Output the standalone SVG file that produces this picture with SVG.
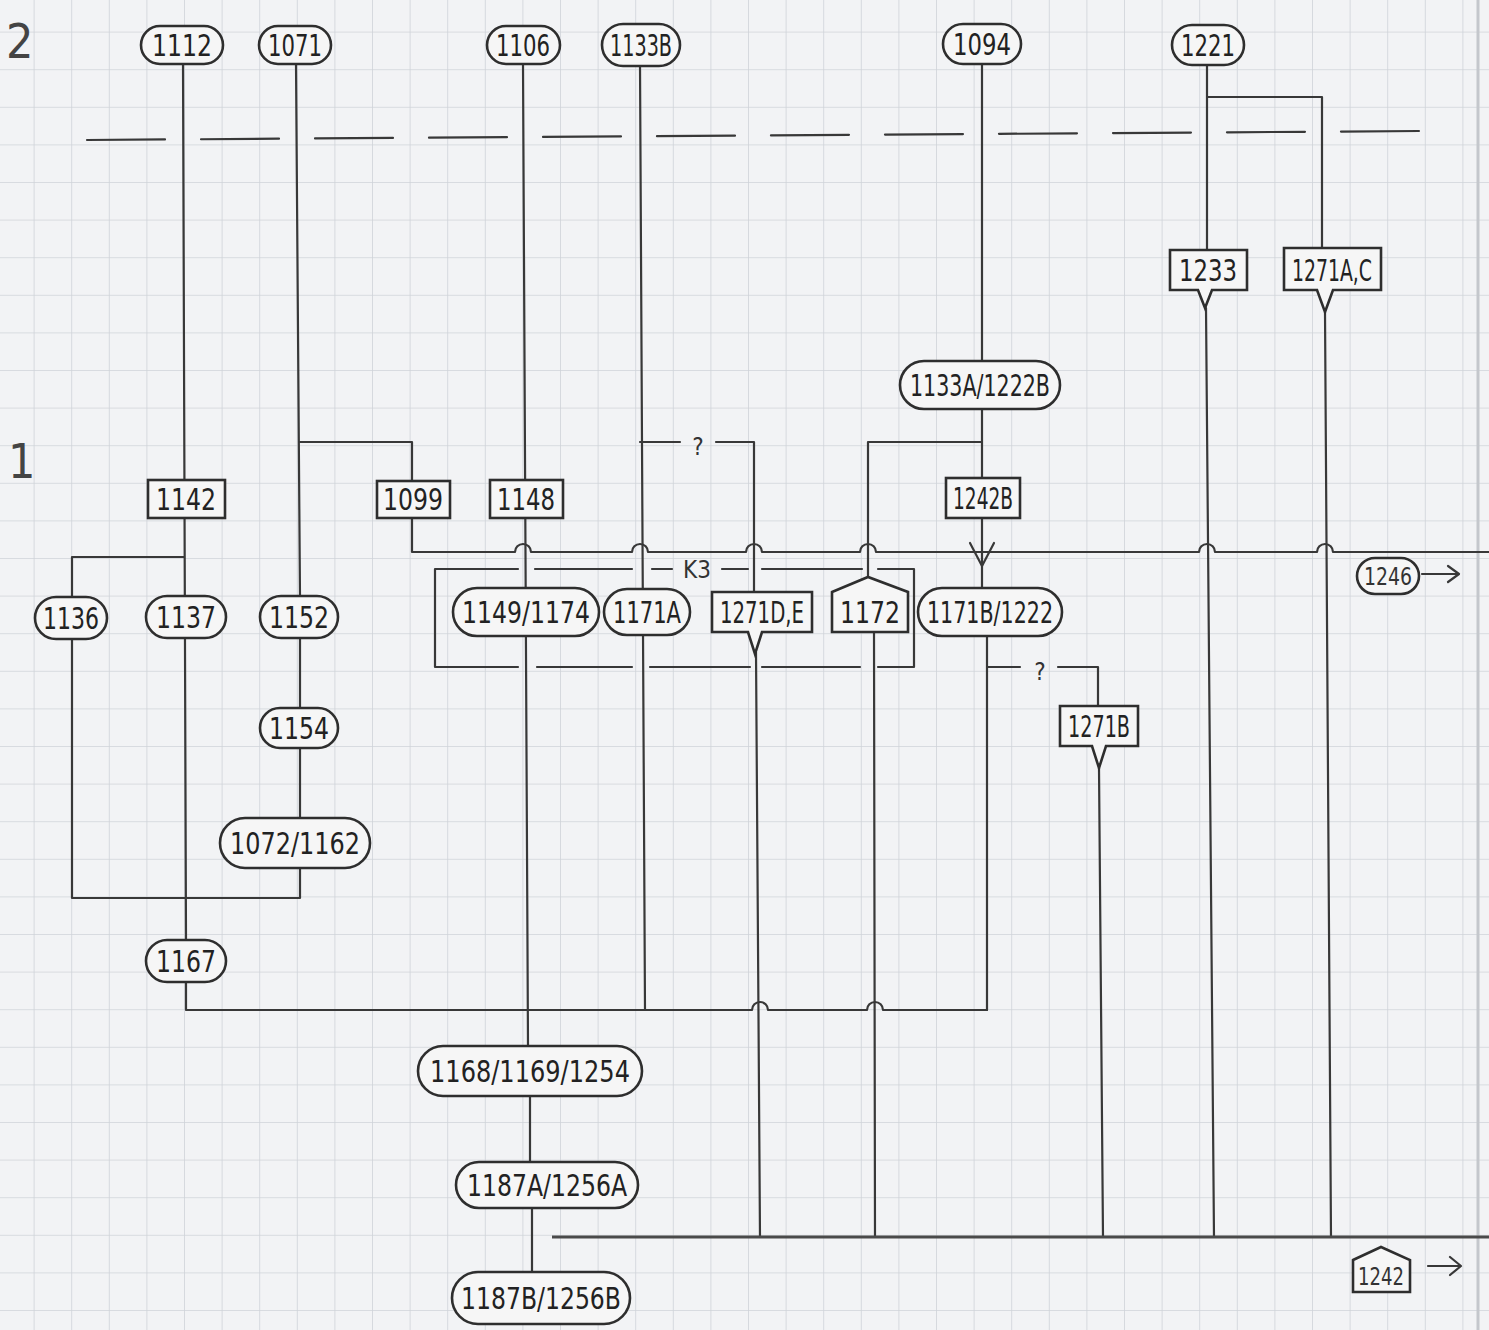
<svg xmlns="http://www.w3.org/2000/svg" width="1489" height="1330" viewBox="0 0 1489 1330">
<style>
.ln{fill:none;stroke:#383838;stroke-width:2.2;stroke-linecap:round;stroke-linejoin:round}
.thick{fill:none;stroke:#4a4a4a;stroke-width:3.2}
.nd{fill:#f6f6f6;stroke:#2e2e2e;stroke-width:2.6}
.t{font-family:"Liberation Sans Narrow","DejaVu Sans Condensed","Liberation Sans",sans-serif;font-size:30px;fill:#222;text-anchor:middle}
.s{font-family:"Liberation Sans Narrow","DejaVu Sans Condensed","Liberation Sans",sans-serif;font-size:24px;fill:#333;text-anchor:middle}
.big{font-family:"Liberation Sans Narrow","DejaVu Sans Condensed",sans-serif;font-size:48px;fill:#444}
</style>
<defs>
<pattern id="grid" width="37.6" height="37.6" patternUnits="userSpaceOnUse" x="-4" y="-6">
<path d="M0,0H37.6M0,0V37.6" fill="none" stroke="#cfd3d9" stroke-width="1.6"/>
</pattern>
</defs>
<rect width="1489" height="1330" fill="#f2f3f5"/>
<rect width="1489" height="1330" fill="url(#grid)"/>
<line x1="1478" y1="0" x2="1478" y2="1330" stroke="#c4c7cc" stroke-width="3"/>

<text class="big" x="6" y="58">2</text>
<text class="big" x="8" y="478">1</text>

<g id="connectors">
<path class="ln" d="M87,140 L1420,131" stroke-dasharray="78 36"/>
<path class="ln" d="M183,64 L186,940"/>
<path class="ln" d="M184,557 H72 V597"/>
<path class="ln" d="M72,638 V898 H300 V868"/>
<path class="ln" d="M186,980 V1010 H752 A8,8 0 0 1 768,1010 H867 A8,8 0 0 1 883,1010 H987"/>
<path class="ln" d="M296,64 L300,598 V818"/>
<path class="ln" d="M300,442 H412 V481"/>
<path class="ln" d="M412,518 V552 H515 A8,8 0 0 1 531,552 H632 A8,8 0 0 1 648,552 H746 A8,8 0 0 1 762,552 H860 A8,8 0 0 1 876,552 H1199 A8,8 0 0 1 1215,552 H1317 A8,8 0 0 1 1333,552 H1489"/>
<path class="ln" d="M970,543 L982,566 L994,543"/>
<path class="ln" d="M523,64 L528,1046"/>
<path class="ln" d="M640,64 L645,1010"/>
<path class="ln" d="M640,442 H680 M716,442 H754 V592"/>
<text class="s" x="698" y="455">?</text>
<path class="ln" d="M756,652 L760,1237"/>
<path class="ln" d="M982,64 V362 M982,408 V478 M982,518 V589"/>
<path class="ln" d="M982,442 H868 V578"/>
<path class="ln" d="M874,632 L875,1237"/>
<path class="ln" d="M987,636 V1010"/>
<path class="ln" d="M987,667 H1020 M1058,667 H1098 V706"/>
<text class="s" x="1040" y="680">?</text>
<path class="ln" d="M1099,768 L1103,1237"/>
<path class="ln" d="M1207,64 V250"/>
<path class="ln" d="M1207,97 H1322 V248"/>
<path class="ln" d="M1206,308 L1214,1237"/>
<path class="ln" d="M1325,312 L1331,1237"/>
<path class="ln" d="M530,1094 V1162 M532,1208 V1272"/>
<path class="thick" d="M552,1237 H1489"/>
<path class="ln" d="M518,569 H435 V667 H518 M535,569 H632 M652,569 H672 M722,569 H748 M762,569 H862 M878,569 H914 V667 H878 M537,667 H632 M650,667 H750 M762,667 H860"/>
<text class="s" x="697" y="578">K3</text>
<path class="ln" d="M1422,574 H1458 M1448,566 L1459,574 L1448,582" stroke-width="2.6"/>
<path class="ln" d="M1428,1266 H1460 M1450,1257 L1461,1266 L1450,1275" stroke-width="2"/>
</g>

<g id="n1112"><rect class="nd" x="141" y="26" width="82" height="38" rx="19"/><text class="t" x="182" y="56" textLength="60" lengthAdjust="spacingAndGlyphs">1112</text></g>
<g id="n1071"><rect class="nd" x="259" y="26" width="72" height="38" rx="19"/><text class="t" x="295" y="56" textLength="54" lengthAdjust="spacingAndGlyphs">1071</text></g>
<g id="n1106"><rect class="nd" x="487" y="26" width="73" height="38" rx="19"/><text class="t" x="523" y="56" textLength="54" lengthAdjust="spacingAndGlyphs">1106</text></g>
<g id="n1133B"><rect class="nd" x="602" y="24" width="78" height="42" rx="21"/><text class="t" x="641" y="56" textLength="62" lengthAdjust="spacingAndGlyphs">1133B</text></g>
<g id="n1094"><rect class="nd" x="943" y="24" width="78" height="40" rx="20"/><text class="t" x="982" y="55" textLength="58" lengthAdjust="spacingAndGlyphs">1094</text></g>
<g id="n1221"><rect class="nd" x="1172" y="25" width="72" height="40" rx="20"/><text class="t" x="1208" y="56" textLength="54" lengthAdjust="spacingAndGlyphs">1221</text></g>

<g id="n1233"><path class="nd" d="M1170,250 H1247 V290 H1212 L1205,308 L1198,290 H1170 Z"/><text class="t" x="1208" y="281" textLength="58" lengthAdjust="spacingAndGlyphs">1233</text></g>
<g id="n1271AC"><path class="nd" d="M1284,248 H1381 V290 H1333 L1325,312 L1317,290 H1284 Z"/><text class="t" x="1332" y="281" textLength="80" lengthAdjust="spacingAndGlyphs">1271A,C</text></g>

<g id="n1133A1222B"><rect class="nd" x="900" y="361" width="160" height="48" rx="24"/><text class="t" x="980" y="396" textLength="140" lengthAdjust="spacingAndGlyphs">1133A/1222B</text></g>

<g id="n1142"><rect class="nd" x="148" y="480" width="77" height="38"/><text class="t" x="186" y="510" textLength="60" lengthAdjust="spacingAndGlyphs">1142</text></g>
<g id="n1099"><rect class="nd" x="377" y="481" width="73" height="37"/><text class="t" x="413" y="510" textLength="60" lengthAdjust="spacingAndGlyphs">1099</text></g>
<g id="n1148"><rect class="nd" x="490" y="480" width="73" height="38"/><text class="t" x="526" y="510" textLength="58" lengthAdjust="spacingAndGlyphs">1148</text></g>
<g id="n1242B"><rect class="nd" x="946" y="478" width="74" height="40"/><text class="t" x="983" y="509" textLength="60" lengthAdjust="spacingAndGlyphs">1242B</text></g>

<g id="n1136"><rect class="nd" x="35" y="597" width="72" height="42" rx="21"/><text class="t" x="71" y="629" textLength="56" lengthAdjust="spacingAndGlyphs">1136</text></g>
<g id="n1137"><rect class="nd" x="146" y="596" width="80" height="42" rx="21"/><text class="t" x="186" y="628" textLength="60" lengthAdjust="spacingAndGlyphs">1137</text></g>
<g id="n1152"><rect class="nd" x="260" y="596" width="78" height="42" rx="21"/><text class="t" x="299" y="628" textLength="60" lengthAdjust="spacingAndGlyphs">1152</text></g>
<g id="n1149_1174"><rect class="nd" x="453" y="588" width="146" height="48" rx="24"/><text class="t" x="526" y="623" textLength="128" lengthAdjust="spacingAndGlyphs">1149/1174</text></g>
<g id="n1171A"><rect class="nd" x="604" y="589" width="86" height="46" rx="23"/><text class="t" x="647" y="623" textLength="68" lengthAdjust="spacingAndGlyphs">1171A</text></g>
<g id="n1271DE"><path class="nd" d="M712,592 H812 V632 H762 L755,654 L748,632 H712 Z"/><text class="t" x="762" y="623" textLength="84" lengthAdjust="spacingAndGlyphs">1271D,E</text></g>
<g id="n1172"><path class="nd" d="M832,592 L868,577 L908,592 V632 H832 Z"/><text class="t" x="870" y="623" textLength="60" lengthAdjust="spacingAndGlyphs">1172</text></g>
<g id="n1171B1222"><rect class="nd" x="918" y="588" width="144" height="48" rx="24"/><text class="t" x="990" y="623" textLength="126" lengthAdjust="spacingAndGlyphs">1171B/1222</text></g>
<g id="n1246"><rect class="nd" x="1357" y="558" width="62" height="36" rx="18"/><text class="s" x="1388" y="585" textLength="48" lengthAdjust="spacingAndGlyphs">1246</text></g>

<g id="n1271B"><path class="nd" d="M1060,706 H1138 V746 H1106 L1099,768 L1092,746 H1060 Z"/><text class="t" x="1099" y="737" textLength="62" lengthAdjust="spacingAndGlyphs">1271B</text></g>

<g id="n1154"><rect class="nd" x="260" y="708" width="78" height="40" rx="20"/><text class="t" x="299" y="739" textLength="60" lengthAdjust="spacingAndGlyphs">1154</text></g>
<g id="n1072_1162"><rect class="nd" x="220" y="818" width="150" height="50" rx="25"/><text class="t" x="295" y="854" textLength="130" lengthAdjust="spacingAndGlyphs">1072/1162</text></g>
<g id="n1167"><rect class="nd" x="146" y="940" width="80" height="42" rx="21"/><text class="t" x="186" y="972" textLength="60" lengthAdjust="spacingAndGlyphs">1167</text></g>

<g id="n1168_1169_1254"><rect class="nd" x="418" y="1046" width="224" height="50" rx="25"/><text class="t" x="530" y="1082" textLength="200" lengthAdjust="spacingAndGlyphs">1168/1169/1254</text></g>
<g id="n1187A_1256A"><rect class="nd" x="456" y="1162" width="182" height="46" rx="23"/><text class="t" x="547" y="1196" textLength="160" lengthAdjust="spacingAndGlyphs">1187A/1256A</text></g>
<g id="n1187B_1256B"><rect class="nd" x="452" y="1272" width="178" height="52" rx="26"/><text class="t" x="541" y="1309" textLength="160" lengthAdjust="spacingAndGlyphs">1187B/1256B</text></g>

<g id="n1242"><path class="nd" d="M1353,1260 L1381,1247 L1410,1260 V1292 H1353 Z" stroke-width="2"/><text class="s" x="1381" y="1285" textLength="46" lengthAdjust="spacingAndGlyphs">1242</text></g>
</svg>
